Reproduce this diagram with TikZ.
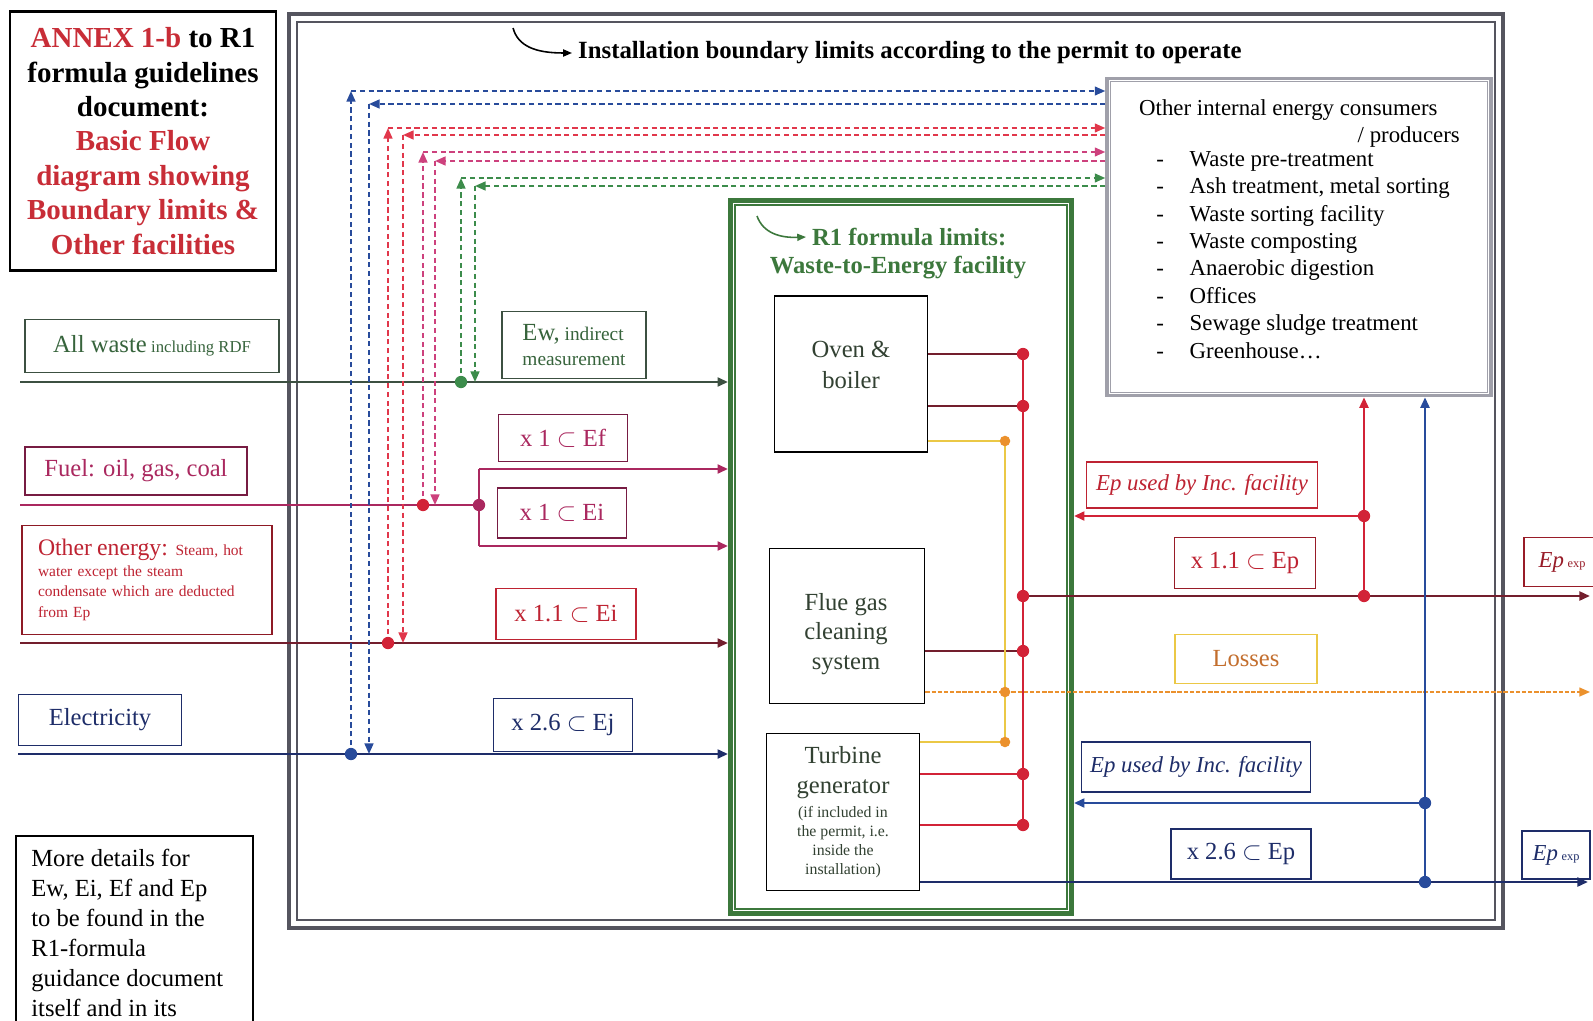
\documentclass[tikz,border=0pt]{standalone}
\usepackage{fontspec}
\setmainfont{Liberation Serif}
\usetikzlibrary{arrows.meta}
\definecolor{annexred}{RGB}{200,45,55}
\definecolor{wastegreen}{RGB}{55,100,60}
\definecolor{wasteline}{RGB}{60,80,65}
\definecolor{fuelpink}{RGB}{170,40,95}
\definecolor{othred}{RGB}{190,35,50}
\definecolor{elecblue}{RGB}{30,45,105}
\definecolor{lpblue}{RGB}{40,75,155}
\definecolor{lpred}{RGB}{225,55,75}
\definecolor{lppink}{RGB}{205,65,125}
\definecolor{lpgreen}{RGB}{60,140,75}
\definecolor{r1green}{RGB}{60,120,60}
\definecolor{busred}{RGB}{210,35,55}
\definecolor{darkred}{RGB}{115,30,45}
\definecolor{lossorange}{RGB}{235,145,45}
\definecolor{lossyellow}{RGB}{235,200,70}
\definecolor{lossbrown}{RGB}{195,110,45}
\definecolor{boxgray}{RGB}{160,160,170}
\definecolor{framegray}{RGB}{85,85,95}
\definecolor{inktext}{RGB}{50,65,50}
\newcommand\fsz[2]{\fontsize{#1}{#2}\selectfont}

\begin{document}
\begin{tikzpicture}[x=0.02cm,y=-0.02cm,
  box/.style={draw,line width=1pt,inner sep=0pt,align=center},
  link/.style={line width=1.5pt},
  flow/.style={line width=1.5pt,-{Triangle[length=6pt,width=5pt]}},
  loopline/.style={line width=1.1pt,dash pattern=on 3pt off 2pt},
  loop/.style={loopline,-{Triangle[length=6pt,width=5pt]}},
  thinarrow/.style={line width=0.9pt,-{Triangle[length=5pt,width=4pt]}}]
\useasboundingbox (0,0) rectangle (1593,1021);
\fill[white] (0,0) rectangle (1593,1021);

\draw[framegray,line width=2.5pt] (289,14) rectangle (1503,928);
\draw[framegray,line width=0.8pt] (297,22) rectangle (1495,920);

\node[box,line width=1.3pt,minimum width=5.32cm,minimum height=5.18cm,font=\bfseries\fsz{16.5}{19.6}] (annex) at (143,141)
 {\textcolor{annexred}{ANNEX 1-b} to R1\\formula guidelines\\document:\\\textcolor{annexred}{Basic Flow}\\\textcolor{annexred}{diagram showing}\\\textcolor{annexred}{Boundary limits \&}\\\textcolor{annexred}{Other facilities}};

\node[anchor=west,font=\bfseries\fsz{14.1}{16}] (insttitle) at (572,53) {Installation boundary limits according to the permit to operate};
\draw[thinarrow] (513,28) .. controls (518,46) and (535,53) .. (insttitle.west);

\node[box,draw=boxgray,line width=2pt,minimum width=7.68cm,minimum height=6.34cm] (oth) at (1299,237) {};
\draw[boxgray,line width=0.7pt] ([shift={(5,5)}]oth.north west) rectangle ([shift={(-5,-5)}]oth.south east);
\node[anchor=west,font=\fsz{13}{15.6}] (othhead) at (1133,110) {Other internal energy consumers};
\node[anchor=east,font=\fsz{13}{15.6}] (othprod) at (1466,137) {/ producers};
\node[anchor=north west,inner sep=0pt,align=left,font=\fsz{13}{15.6}] (othlist) at (1156,151)
 {\makebox[19pt][l]{-}Waste pre-treatment\\\makebox[19pt][l]{-}Ash treatment, metal sorting\\\makebox[19pt][l]{-}Waste sorting facility\\\makebox[19pt][l]{-}Waste composting\\\makebox[19pt][l]{-}Anaerobic digestion\\\makebox[19pt][l]{-}Offices\\\makebox[19pt][l]{-}Sewage sludge treatment\\\makebox[19pt][l]{-}Greenhouse\dots};

\node[box,draw=wasteline,minimum width=5.08cm,minimum height=1.06cm,text=wastegreen] (waste) at (152,346) {{\fsz{14}{16}All waste} {\fsz{9.5}{11}including RDF}};
\node[box,draw=fuelpink!70!black,minimum width=4.44cm,minimum height=0.96cm,text=fuelpink,font=\fsz{14}{16}] (fuel) at (136,471) {Fuel: oil, gas, coal};
\node[box,draw=othred!75!black,minimum width=5cm,minimum height=2.18cm,text width=4.36cm,align=left,text=othred,font=\fsz{8.8}{11.8}] (other) at (147,580)
 {{\fsz{13.5}{14}Other energy:} Steam, hot\\water except the steam\\condensate which are deducted\\from Ep};
\node[box,draw=elecblue,minimum width=3.26cm,minimum height=1.02cm,text=elecblue,font=\fsz{14}{16}] (elec) at (100,720) {Electricity};

\node[box,draw=wasteline,minimum width=2.88cm,minimum height=1.34cm,align=left,text=wastegreen,font=\fsz{11}{14.5}] (ew) at (574,345) {{\fsz{14}{15}Ew,} indirect\\measurement};
\node[box,draw=fuelpink!70!black,minimum width=2.58cm,minimum height=0.94cm,text=fuelpink,font=\fsz{14}{16}] (ef) at (563,438) {x 1 $\subset$ Ef};
\node[box,draw=fuelpink!70!black,minimum width=2.58cm,minimum height=1cm,text=fuelpink,font=\fsz{14}{16}] (ei) at (562,513) {x 1 $\subset$ Ei};
\node[box,draw=othred,minimum width=2.8cm,minimum height=1.02cm,text=othred,font=\fsz{14}{16}] (ei11) at (566,614) {x 1.1 $\subset$ Ei};
\node[box,draw=elecblue,minimum width=2.78cm,minimum height=1.06cm,text=elecblue,font=\fsz{14}{16}] (ej26) at (563,725) {x 2.6 $\subset$ Ej};

\node[box,draw=r1green,line width=2.8pt,minimum width=6.82cm,minimum height=14.26cm] (r1) at (901,557) {};
\draw[r1green,line width=0.8pt] ([shift={(7,7)}]r1.north west) rectangle ([shift={(-7,-7)}]r1.south east);
\node[anchor=west,text=r1green,font=\bfseries\fsz{14}{16}] (r1title) at (806,237) {R1 formula limits:};
\node[text=r1green,font=\bfseries\fsz{14}{16}] (r1sub) at (898,268) {Waste-to-Energy facility};
\draw[thinarrow,r1green] (757,216) .. controls (763,233) and (780,238) .. (r1title.west);

\node[box,minimum width=3.06cm,minimum height=3.12cm] (oven) at (851,374) {};
\node[text=inktext,align=center,font=\fsz{14}{17.6}] (oventxt) at (851,365) {Oven \&\\boiler};
\node[box,minimum width=3.1cm,minimum height=3.1cm] (flue) at (847,626) {};
\node[text=inktext,align=center,font=\fsz{14}{17}] (fluetxt) at (846,634) {Flue gas\\cleaning\\system};
\node[box,minimum width=3.06cm,minimum height=3.14cm] (turb) at (843,812) {};
\node[text=inktext,align=center,font=\fsz{14}{17}] (turbtxt) at (843,773) {Turbine\\generator};
\node[text=inktext,align=center,font=\fsz{9}{10.8}] (turbnote) at (843,842) {(if included in\\the permit, i.e.\\inside the\\installation)};

\node[box,draw=othred,minimum width=4.62cm,minimum height=0.92cm,text=othred,font=\itshape\fsz{13}{15}] (epinr) at (1202,485) {Ep used by Inc. facility};
\node[box,draw=othred!80!black,minimum width=2.82cm,minimum height=1.02cm,text=othred,font=\fsz{14}{16}] (ep11) at (1245,563) {x 1.1 $\subset$ Ep};
\node[box,draw=othred!80!black,minimum width=1.52cm,minimum height=0.98cm,text=othred!80!black,font=\fsz{13}{15}] (epx1) at (1562,562) {\textit{Ep}\,{\fsz{7}{8}exp}};
\node[box,draw=lossyellow,minimum width=2.84cm,minimum height=0.98cm,text=lossbrown,font=\fsz{14}{16}] (loss) at (1246,659) {Losses};
\node[box,draw=elecblue,minimum width=4.58cm,minimum height=1cm,text=elecblue,font=\itshape\fsz{13}{15}] (epinb) at (1196,767) {Ep used by Inc. facility};
\node[box,draw=elecblue,minimum width=2.8cm,minimum height=1cm,text=elecblue,font=\fsz{14}{16}] (ep26) at (1241,854) {x 2.6 $\subset$ Ep};
\node[box,draw=elecblue,minimum width=1.36cm,minimum height=0.96cm,text=elecblue,font=\fsz{13}{15}] (epx2) at (1556,855) {\textit{Ep}\,{\fsz{7}{8}exp}};

\node[box,line width=1.2pt,anchor=north west,minimum width=4.74cm,minimum height=4.4cm] (more) at (15,835) {};
\node[anchor=north west,inner sep=0pt,align=left,font=\fsz{14}{17}] (moretxt) at (31,849) {More details for\\Ew, Ei, Ef and Ep\\to be found in the\\R1-formula\\guidance document\\itself and in its};

\coordinate (wasteL) at (20,382);
\coordinate (fuelL) at (20,505);
\coordinate (otherL) at (20,643);
\coordinate (elecL) at (18,754);
\coordinate (gdot) at (461,382);
\coordinate (pdot) at (423,505);
\coordinate (rdot) at (388,643);
\coordinate (bdot) at (351,754);
\coordinate (fork) at (479,505);
\coordinate (forkT) at (479,469);
\coordinate (forkB) at (479,546);
\coordinate (bup) at (351,91);
\coordinate (bdn) at (369,104);
\coordinate (rup) at (388,128);
\coordinate (rdn) at (403,135);
\coordinate (pup) at (423,152);
\coordinate (pdn) at (435,161);
\coordinate (gup) at (461,178);
\coordinate (gdn) at (475,186);

\draw[flow,wasteline] (wasteL) -- (gdot -| r1.west);
\draw[link,fuelpink] (fuelL) -- (fork);
\draw[link,fuelpink] (forkT) -- (forkB);
\draw[flow,fuelpink] (forkT) -- (forkT -| r1.west);
\draw[flow,fuelpink] (forkB) -- (forkB -| r1.west);
\draw[flow,darkred] (otherL) -- (rdot -| r1.west);
\draw[flow,elecblue] (elecL) -- (bdot -| r1.west);

\draw[loop,lpblue] (bdot) -- (bup);
\draw[loop,lpblue] (bup) -- (bup -| oth.west);
\draw[loop,lpblue] (bdn -| oth.west) -- (bdn);
\draw[loop,lpblue] (bdn) -- (bdn |- bdot);
\draw[loop,lpred] (rdot) -- (rup);
\draw[loop,lpred] (rup) -- (rup -| oth.west);
\draw[loop,lpred] (rdn -| oth.west) -- (rdn);
\draw[loop,lpred] (rdn) -- (rdn |- rdot);
\draw[loop,lppink] (pdot) -- (pup);
\draw[loop,lppink] (pup) -- (pup -| oth.west);
\draw[loop,lppink] (pdn -| oth.west) -- (pdn);
\draw[loop,lppink] (pdn) -- (pdn |- pdot);
\draw[loop,lpgreen] (gdot) -- (gup);
\draw[loop,lpgreen] (gup) -- (gup -| oth.west);
\draw[loop,lpgreen] (gdn -| oth.west) -- (gdn);
\draw[loop,lpgreen] (gdn) -- (gdn |- gdot);
\fill[lpgreen] (gdot) circle[radius=3.5pt];
\fill[busred] (pdot) circle[radius=3.5pt];
\fill[fuelpink] (fork) circle[radius=3.5pt];
\fill[busred] (rdot) circle[radius=3.5pt];
\fill[lpblue] (bdot) circle[radius=3.5pt];

\coordinate (rb1) at (1023,354);
\coordinate (rb2) at (1023,406);
\coordinate (rbo) at (1023,596);
\coordinate (rb3) at (1023,651);
\coordinate (rb4) at (1023,774);
\coordinate (rb5) at (1023,825);
\coordinate (yb1) at (1005,441);
\coordinate (yb2) at (1005,692);
\coordinate (yb3) at (1005,742);
\coordinate (rv2) at (1364,516);
\coordinate (rv1) at (1364,596);
\coordinate (bv2) at (1425,803);
\coordinate (bv1) at (1425,882);
\coordinate (redR) at (1590,596);
\coordinate (lossR) at (1590,692);
\coordinate (blueR) at (1588,882);

\draw[link,darkred] (oven.east |- rb1) -- (rb1);
\draw[link,darkred] (oven.east |- rb2) -- (rb2);
\draw[link,darkred] (flue.east |- rb3) -- (rb3);
\draw[link,busred] (turb.east |- rb4) -- (rb4);
\draw[link,busred] (turb.east |- rb5) -- (rb5);
\draw[link,busred] (rb1) -- (rb5);
\draw[lossyellow,line width=0.9pt] (oven.east |- yb1) -- (yb1);
\draw[lossyellow,line width=0.9pt] (turb.east |- yb3) -- (yb3);
\draw[lossyellow,line width=0.9pt] (yb1) -- (yb3);
\draw[lossorange,line width=0.9pt,dash pattern=on 2.5pt off 1pt,-{Triangle[length=6pt,width=5pt]}] (flue.east |- yb2) -- (lossR);
\draw[flow,darkred] (rbo) -- (redR);
\draw[flow,busred] (rv1) -- (rv1 |- oth.south);
\draw[flow,busred] (rv2) -- (rv2 -| r1.east);
\draw[flow,elecblue] (turb.east |- bv1) -- (blueR);
\draw[flow,lpblue] (bv1) -- (bv1 |- oth.south);
\draw[flow,lpblue] (bv2) -- (bv2 -| r1.east);
\fill[busred] (rb1) circle[radius=3.5pt];
\fill[busred] (rb2) circle[radius=3.5pt];
\fill[busred] (rbo) circle[radius=3.5pt];
\fill[busred] (rb3) circle[radius=3.5pt];
\fill[busred] (rb4) circle[radius=3.5pt];
\fill[busred] (rb5) circle[radius=3.5pt];
\fill[lossorange] (yb1) circle[radius=3pt];
\fill[lossorange] (yb2) circle[radius=3pt];
\fill[lossorange] (yb3) circle[radius=3pt];
\fill[busred] (rv1) circle[radius=3.5pt];
\fill[busred] (rv2) circle[radius=3.5pt];
\fill[lpblue] (bv1) circle[radius=3.5pt];
\fill[lpblue] (bv2) circle[radius=3.5pt];
\end{tikzpicture}
\end{document}
